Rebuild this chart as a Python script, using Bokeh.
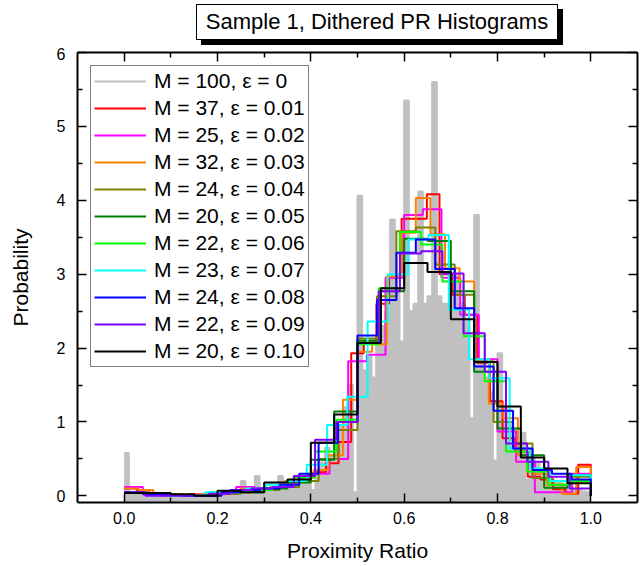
import numpy as np
from bokeh.plotting import figure
from bokeh.layouts import column
from bokeh.models import (LinearAxis, Legend, LegendItem, FixedTicker, Range1d,
                          Div, CustomLabelingPolicy)
from bokeh.embed import file_html
from bokeh.resources import INLINE

# ---------------- data ----------------
title_text = "Sample 1, Dithered PR Histograms"
x_label = "Proximity Ratio"
y_label = "Probability"

x_major = [0.0, 0.2, 0.4, 0.6, 0.8, 1.0]
x_minor = [0.1, 0.3, 0.5, 0.7, 0.9]
y_major = [0, 1, 2, 3, 4, 5, 6]
y_minor = [0.5, 1.5, 2.5, 3.5, 4.5, 5.5]

# M = 100, eps = 0 (gray columns), bin width 0.01
gray_vals = [
    0.58, 0.03, 0.02, 0.05, 0.04, 0.02, 0.03, 0.02, 0.01, 0.02,
    0.00, 0.01, 0.00, 0.01, 0.00, 0.01, 0.00, 0.01, 0.02, 0.01,
    0.03, 0.04, 0.05, 0.04, 0.06, 0.20, 0.07, 0.06, 0.27, 0.05,
    0.10, 0.08, 0.12, 0.27, 0.10, 0.14, 0.15, 0.20, 0.19, 0.28,
    0.08, 0.35, 0.45, 0.65, 0.55, 0.75, 0.95, 1.20, 1.50, 0.05,
    4.06, 1.70, 1.90, 1.60, 2.10, 2.30, 2.50, 3.74, 2.80, 2.09,
    5.35, 2.50, 2.60, 4.12, 2.60, 2.70, 5.60, 2.70, 2.60, 2.60,
    2.90, 3.00, 2.60, 2.40, 1.05, 3.80, 1.80, 1.60, 1.40, 0.48,
    1.93, 1.20, 1.00, 0.90, 0.70, 0.85, 0.22, 0.50, 0.45, 0.35,
    0.30, 0.25, 0.20, 0.17, 0.15, 0.12, 0.10, 0.08, 0.06, 0.05,
]

red_vals = [0.10, 0.08, 0.02, 0.00, 0.00, 0.02, 0.00, 0.05, 0.03, 0.05,
            0.10, 0.08, 0.12, 0.18, 0.25, 0.32, 0.44, 0.73, 1.93, 2.10,
            2.60, 2.95, 3.75, 3.75, 4.08, 3.00, 2.72, 2.45, 1.80, 1.28,
            0.78, 0.60, 0.26, 0.22, 0.09, 0.03, 0.42]
magenta_vals = [0.12, 0.02, 0.00, 0.00, 0.02, 0.03, 0.12, 0.10, 0.12, 0.20,
                0.30, 0.50, 1.82, 1.91, 2.95, 3.80, 3.88, 2.95, 2.45, 1.85,
                0.87, 0.46, 0.05, 0.05, 0.30]
orange_vals = [0.10, 0.08, 0.02, 0.00, 0.00, 0.02, 0.02, 0.05, 0.10, 0.08,
               0.12, 0.20, 0.25, 0.35, 0.55, 1.30, 1.95, 2.05, 2.97, 3.56,
               4.03, 3.54, 3.08, 2.90, 1.85, 1.25, 1.05, 0.55, 0.30, 0.15,
               0.03, 0.39]
olive_vals = [0.05, 0.02, 0.02, 0.00, 0.00, 0.03, 0.06, 0.08, 0.12, 0.20,
              0.50, 0.89, 2.13, 2.70, 3.58, 3.63, 3.13, 2.72, 1.82, 1.00,
              0.71, 0.24, 0.15, 0.26]
green_vals = [0.05, 0.02, 0.00, 0.00, 0.05, 0.05, 0.10, 0.18, 0.49, 1.14,
              2.10, 2.77, 3.48, 3.45, 2.77, 1.68, 0.91, 0.55, 0.11, 0.28]
lime_vals = [0.05, 0.03, 0.00, 0.00, 0.05, 0.06, 0.08, 0.12, 0.25, 0.60,
             1.03, 2.05, 2.81, 3.57, 3.40, 2.90, 2.16, 1.55, 0.60, 0.33,
             0.15, 0.20]
cyan_vals = [0.05, 0.03, 0.00, 0.00, 0.05, 0.05, 0.10, 0.15, 0.20, 0.42,
             0.96, 1.34, 2.36, 3.00, 3.47, 3.53, 2.52, 1.85, 1.59, 0.64,
             0.37, 0.20, 0.28]
blue_vals = [0.05, 0.02, 0.01, 0.00, 0.00, 0.05, 0.08, 0.10, 0.15, 0.30,
             0.72, 1.00, 2.17, 2.65, 3.29, 3.47, 3.07, 2.54, 1.75, 1.15,
             0.64, 0.35, 0.30, 0.22]
purple_vals = [0.05, 0.00, 0.00, 0.00, 0.03, 0.08, 0.10, 0.12, 0.27, 0.76,
               1.00, 2.07, 2.77, 3.28, 3.31, 3.01, 2.20, 1.68, 0.71, 0.46,
               0.26, 0.10]
black_vals = [0.04, 0.04, 0.02, 0.00, 0.07, 0.05, 0.18, 0.22, 0.72, 1.10,
              2.07, 2.81, 3.15, 3.03, 2.39, 1.81, 1.21, 0.52, 0.37, 0.17]

series_labels = ["M = 37, \u03b5 = 0.01", "M = 25, \u03b5 = 0.02", "M = 32, \u03b5 = 0.03",
                 "M = 24, \u03b5 = 0.04", "M = 20, \u03b5 = 0.05", "M = 22, \u03b5 = 0.06",
                 "M = 23, \u03b5 = 0.07", "M = 24, \u03b5 = 0.08", "M = 22, \u03b5 = 0.09",
                 "M = 20, \u03b5 = 0.10"]
gray_label = "M = 100, \u03b5 = 0"
series_vals = [red_vals, magenta_vals, orange_vals, olive_vals, green_vals,
               lime_vals, cyan_vals, blue_vals, purple_vals, black_vals]
series_colors = ["#FF0000", "#FF00FF", "#FF8000", "#808000", "#008000",
                 "#00FF00", "#00FFFF", "#0000FF", "#8000FF", "#000000"]
gray_color = "#C0C0C0"

FONT = "Liberation Sans"

# ---------------- title box (HTML) ----------------
title_div = Div(
    text=('<div style="box-sizing:border-box; margin-left:196px; margin-top:4px; '
          'width:362px; height:36px; border:1px solid black; background:white; '
          'box-shadow:5px 5px 0 0 black; font-family:\'Liberation Sans\', Arial, sans-serif; '
          'font-size:22px; line-height:34px; text-align:center; color:black; '
          'white-space:nowrap;">' + title_text + '</div>'),
    width=640, height=47, margin=0)

# ---------------- figure ----------------
y_lo = -0.09
p = figure(width=640, height=519, x_range=Range1d(-0.1, 1.1), y_range=Range1d(y_lo, 6.0),
           output_backend="svg", toolbar_location=None,
           x_axis_type=None, y_axis_type=None,
           min_border_left=77, min_border_right=3, min_border_top=5, min_border_bottom=64)
p.outline_line_color = None
p.background_fill_color = "white"
p.border_fill_color = "white"
p.xgrid.visible = False
p.ygrid.visible = False


def style_axis(ax, labels=True):
    ax.axis_line_width = 2
    ax.axis_line_color = "black"
    ax.major_tick_in = 9
    ax.major_tick_out = 0
    ax.minor_tick_in = 5
    ax.minor_tick_out = 0
    ax.major_tick_line_width = 1.5
    ax.minor_tick_line_width = 1.5
    ax.major_tick_line_color = "black"
    ax.minor_tick_line_color = "black"
    if labels:
        ax.major_label_text_font = FONT
        ax.major_label_text_font_size = "16px"
        ax.major_label_text_color = "black"
        ax.axis_label_text_font = FONT
        ax.axis_label_text_font_size = "21px"
        ax.axis_label_text_font_style = "normal"
        ax.axis_label_text_color = "black"
    else:
        ax.major_label_text_font_size = "0px"
        ax.major_label_standoff = 0
        ax.major_label_policy = CustomLabelingPolicy(code="return []")


xt = FixedTicker(ticks=x_major, minor_ticks=x_minor)
yt = FixedTicker(ticks=y_major, minor_ticks=y_minor)

xb = LinearAxis(ticker=xt, axis_label=x_label)
style_axis(xb)
xb.major_label_standoff = 9
xb.axis_label_standoff = 12
xb.major_label_overrides = {v: f"{v:.1f}" for v in x_major}
p.add_layout(xb, "below")

yl = LinearAxis(ticker=yt, axis_label=y_label)
style_axis(yl)
yl.major_label_standoff = 12
yl.axis_label_standoff = 22
p.add_layout(yl, "left")

xa = LinearAxis(ticker=FixedTicker(ticks=x_major, minor_ticks=x_minor))
style_axis(xa, labels=False)
p.add_layout(xa, "above")

yr = LinearAxis(ticker=FixedTicker(ticks=y_major, minor_ticks=y_minor))
style_axis(yr, labels=False)
p.add_layout(yr, "right")

# gray columns (M = 100), filled from the bottom axis, with a gray outline
n_g = len(gray_vals)
g_x = np.append(np.arange(n_g) / n_g, 1.0)
g_y = np.append(gray_vals, gray_vals[-1])
p.varea_step(x=g_x, y1=y_lo, y2=g_y, step_mode="after", fill_color=gray_color)
r_gray = p.step(g_x, g_y, mode="after", line_color=gray_color, line_width=2)

items = [LegendItem(label=gray_label, renderers=[r_gray])]
for vals, col, lab in zip(series_vals, series_colors, series_labels):
    m = len(vals)
    xs = np.append(np.arange(m) / m, [1.0, 1.0])
    ys = np.append(vals, [vals[-1], 0.0])
    r = p.step(xs, ys, mode="after", line_color=col, line_width=2)
    items.append(LegendItem(label=lab, renderers=[r]))

legend = Legend(items=items, location="top_left")
legend.margin = 13
legend.padding = 3
legend.spacing = 3
legend.label_height = 24
legend.glyph_height = 24
legend.glyph_width = 52
legend.label_standoff = 8
legend.label_text_font = FONT
legend.label_text_font_size = "21px"
legend.label_text_color = "black"
legend.border_line_color = "black"
legend.border_line_width = 1
legend.background_fill_color = "white"
legend.background_fill_alpha = 1.0
p.add_layout(legend)

layout = column(title_div, p, spacing=0)
open("out.html", "w").write(file_html(layout, INLINE))
